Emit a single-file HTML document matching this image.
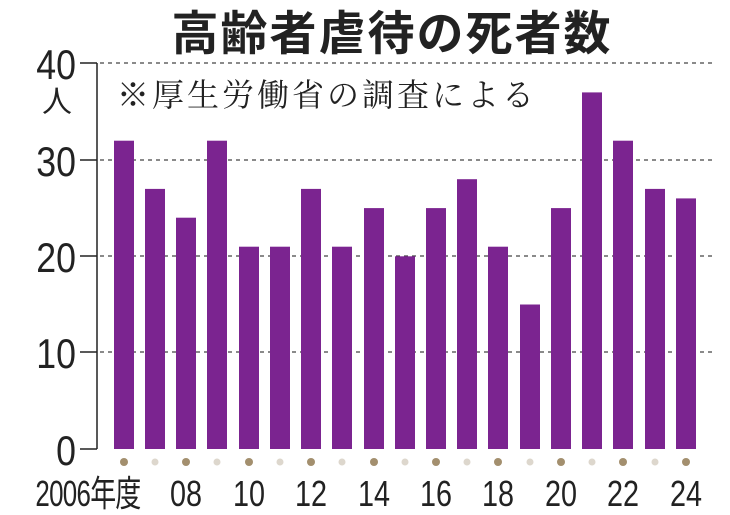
<!DOCTYPE html>
<html><head><meta charset="utf-8"><style>
html,body{margin:0;padding:0;background:#fff;}
svg{display:block;}
</style></head><body>
<svg width="730" height="515" viewBox="0 0 730 515" xmlns="http://www.w3.org/2000/svg">
<rect width="730" height="515" fill="#fff"/>
<text x="392" y="50" text-anchor="middle" font-family="'Liberation Sans','Noto Sans CJK JP',sans-serif" font-weight="bold" font-size="47" letter-spacing="2" fill="#222">高齢者虐待の死者数</text>
<g stroke="#444" stroke-width="1.3" stroke-dasharray="4,4">
<line x1="100" y1="63" x2="712" y2="63"/>
<line x1="100" y1="160" x2="712" y2="160"/>
<line x1="100" y1="256" x2="712" y2="256"/>
<line x1="100" y1="352" x2="712" y2="352"/>
</g>
<text x="117" y="106" font-family="'Liberation Serif','Noto Serif CJK SC',serif" font-size="32" letter-spacing="3" fill="#222">※厚生労働省の調査による</text>
<g fill="#7b2490">
<rect x="114" y="140.7" width="20" height="308.3"/>
<rect x="145" y="188.9" width="20" height="260.1"/>
<rect x="176" y="217.7" width="20" height="231.3"/>
<rect x="207" y="140.7" width="20" height="308.3"/>
<rect x="239" y="246.7" width="20" height="202.3"/>
<rect x="270" y="246.7" width="20" height="202.3"/>
<rect x="301" y="188.9" width="20" height="260.1"/>
<rect x="332" y="246.7" width="20" height="202.3"/>
<rect x="364" y="208.1" width="20" height="240.9"/>
<rect x="395" y="256.3" width="20" height="192.7"/>
<rect x="426" y="208.1" width="20" height="240.9"/>
<rect x="457" y="179.2" width="20" height="269.8"/>
<rect x="488" y="246.7" width="20" height="202.3"/>
<rect x="520" y="304.5" width="20" height="144.5"/>
<rect x="551" y="208.1" width="20" height="240.9"/>
<rect x="582" y="92.4" width="20" height="356.6"/>
<rect x="613" y="140.7" width="20" height="308.3"/>
<rect x="645" y="188.9" width="20" height="260.1"/>
<rect x="676" y="198.4" width="20" height="250.6"/>
</g>
<g stroke="#222" stroke-width="1.5" fill="none">
<line x1="97" y1="63" x2="97" y2="449"/>
<line x1="80" y1="63" x2="97" y2="63"/>
<line x1="80" y1="160" x2="97" y2="160"/>
<line x1="80" y1="256" x2="97" y2="256"/>
<line x1="80" y1="352" x2="97" y2="352"/>
<line x1="80" y1="449" x2="97" y2="449"/>
</g>
<g font-family="'Liberation Sans','Noto Sans CJK JP',sans-serif" font-size="42" fill="#222" text-anchor="end">
<text x="76" y="79" transform="translate(76,0) scale(0.85,1) translate(-76,0)">40</text>
<text x="76" y="176" transform="translate(76,0) scale(0.85,1) translate(-76,0)">30</text>
<text x="76" y="272" transform="translate(76,0) scale(0.85,1) translate(-76,0)">20</text>
<text x="76" y="368" transform="translate(76,0) scale(0.85,1) translate(-76,0)">10</text>
<text x="76" y="465" transform="translate(76,0) scale(0.85,1) translate(-76,0)">0</text>
</g>
<text x="72" y="112" text-anchor="end" font-family="'Liberation Sans','Noto Sans CJK JP',sans-serif" font-size="30" fill="#222">人</text>
<g>
<circle cx="124" cy="462" r="4" fill="#a38f6e"/><circle cx="155" cy="462" r="3.5" fill="#ddd7cd"/>
<circle cx="186" cy="462" r="4" fill="#a38f6e"/><circle cx="217" cy="462" r="3.5" fill="#ddd7cd"/>
<circle cx="249" cy="462" r="4" fill="#a38f6e"/><circle cx="280" cy="462" r="3.5" fill="#ddd7cd"/>
<circle cx="311" cy="462" r="4" fill="#a38f6e"/><circle cx="342" cy="462" r="3.5" fill="#ddd7cd"/>
<circle cx="374" cy="462" r="4" fill="#a38f6e"/><circle cx="405" cy="462" r="3.5" fill="#ddd7cd"/>
<circle cx="436" cy="462" r="4" fill="#a38f6e"/><circle cx="467" cy="462" r="3.5" fill="#ddd7cd"/>
<circle cx="498" cy="462" r="4" fill="#a38f6e"/><circle cx="530" cy="462" r="3.5" fill="#ddd7cd"/>
<circle cx="561" cy="462" r="4" fill="#a38f6e"/><circle cx="592" cy="462" r="3.5" fill="#ddd7cd"/>
<circle cx="623" cy="462" r="4" fill="#a38f6e"/><circle cx="655" cy="462" r="3.5" fill="#ddd7cd"/>
<circle cx="686" cy="462" r="4" fill="#a38f6e"/>
</g>
<g font-family="'Liberation Sans','Noto Sans CJK JP',sans-serif" font-size="36" fill="#222" text-anchor="middle">
<text x="0" y="506" transform="translate(88,0) scale(0.72,1)" letter-spacing="-1">2006年度</text>
<text x="0" y="506" transform="translate(186,0) scale(0.8,1)">08</text>
<text x="0" y="506" transform="translate(249,0) scale(0.8,1)">10</text>
<text x="0" y="506" transform="translate(311,0) scale(0.8,1)">12</text>
<text x="0" y="506" transform="translate(374,0) scale(0.8,1)">14</text>
<text x="0" y="506" transform="translate(436,0) scale(0.8,1)">16</text>
<text x="0" y="506" transform="translate(498,0) scale(0.8,1)">18</text>
<text x="0" y="506" transform="translate(561,0) scale(0.8,1)">20</text>
<text x="0" y="506" transform="translate(623,0) scale(0.8,1)">22</text>
<text x="0" y="506" transform="translate(686,0) scale(0.8,1)">24</text>
</g>
</svg>
</body></html>
